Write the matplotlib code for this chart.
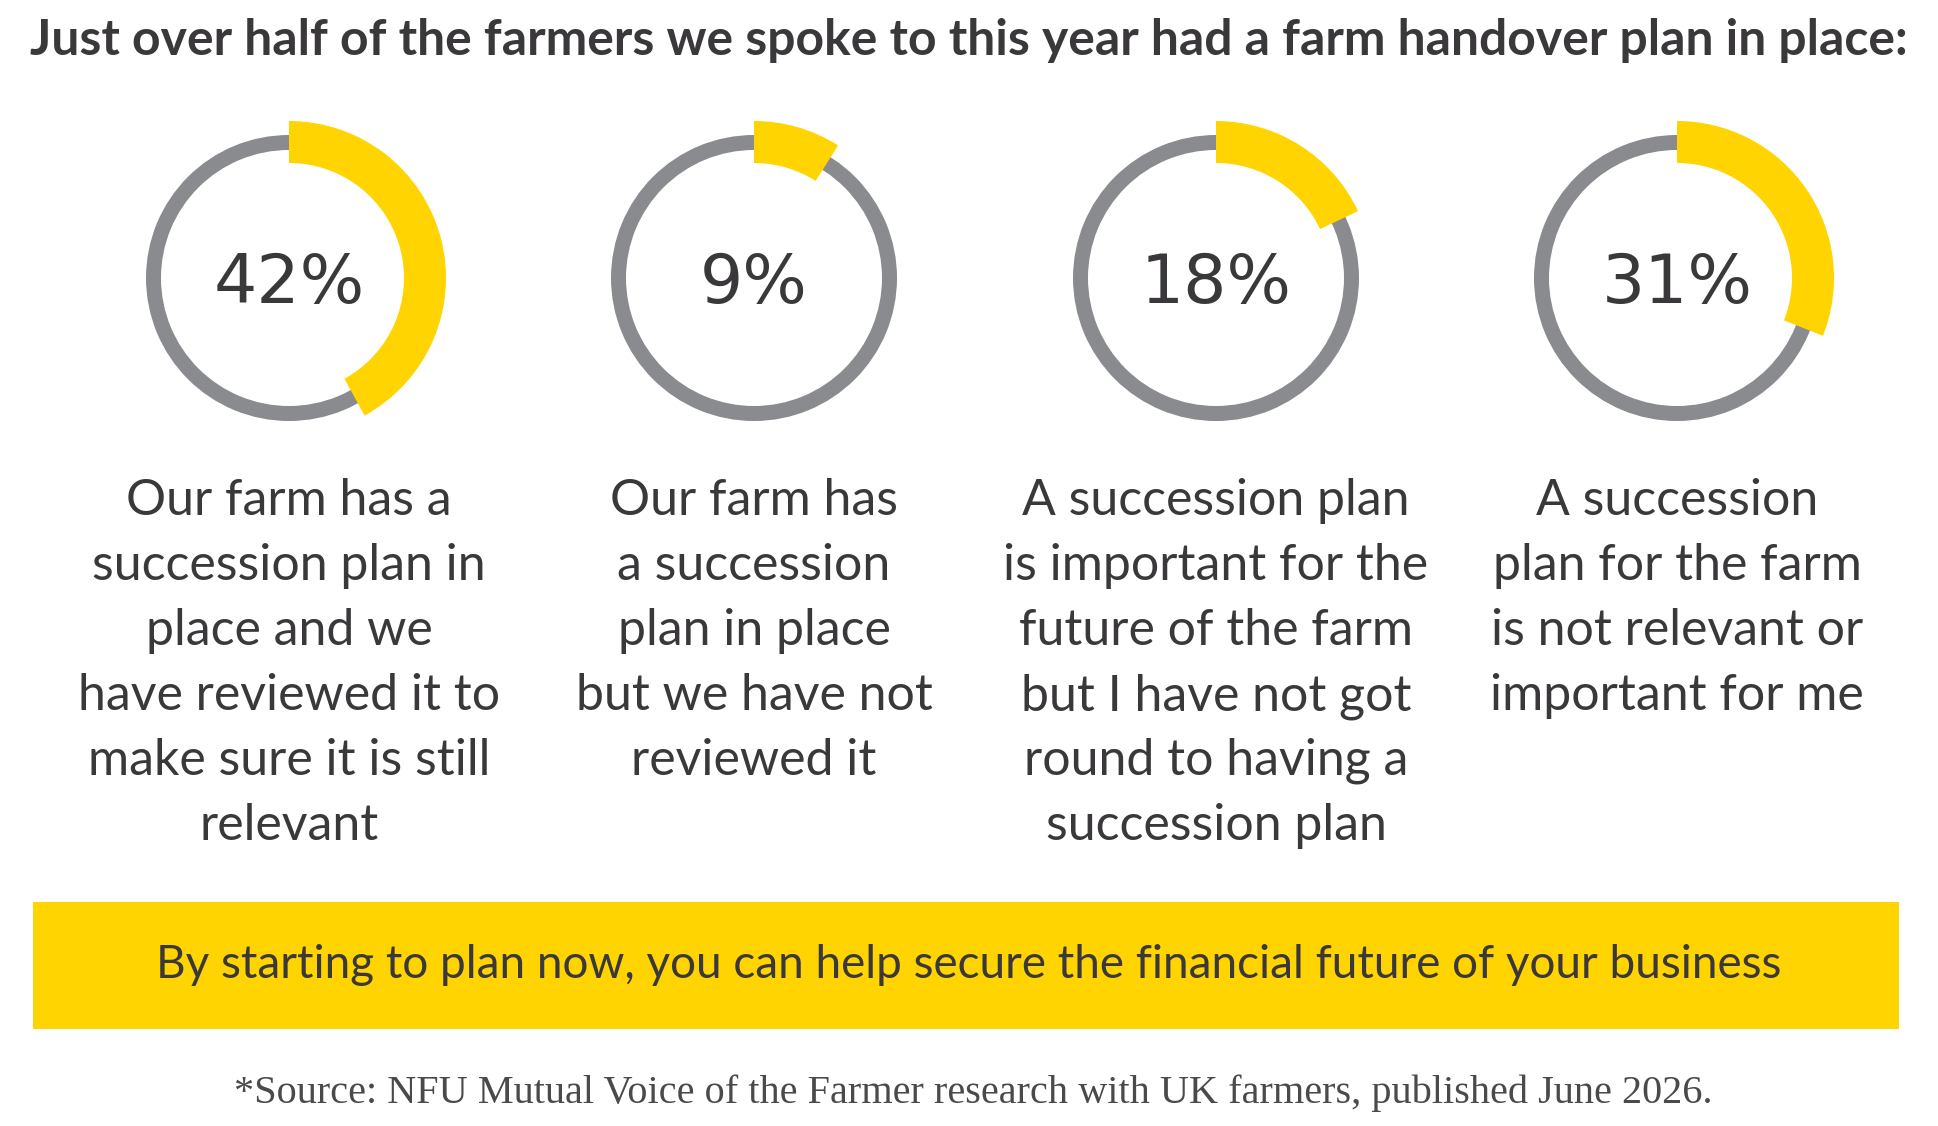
import matplotlib.pyplot as plt
from matplotlib.patches import Wedge, Rectangle

# data
values = [42, 9, 18, 31]
labels = ['42%', '9%', '18%', '31%']
descriptions = [
    ['Our farm has a', 'succession plan in', 'place and we', 'have reviewed it to',
     'make sure it is still', 'relevant'],
    ['Our farm has', 'a succession', 'plan in place', 'but we have not', 'reviewed it'],
    ['A succession plan', 'is important for the', 'future of the farm',
     'but I have not got', 'round to having a', 'succession plan'],
    ['A succession', 'plan for the farm', 'is not relevant or', 'important for me'],
]
title = 'Just over half of the farmers we spoke to this year had a farm handover plan in place:'
banner = 'By starting to plan now, you can help secure the financial future of your business'
source = '*Source: NFU Mutual Voice of the Farmer research with UK farmers, published June 2026.'

YELLOW = '#FFD400'
GREY = '#8a8b8e'
DARK = '#3a383b'

W, H = 1938, 1126
fig = plt.figure(figsize=(W / 100, H / 100), dpi=100)
ax = fig.add_axes([0, 0, 1, 1])
ax.set_xlim(0, W)
ax.set_ylim(H, 0)
ax.axis('off')

# title, shrunk to fit the width of the reference line
t = ax.text(W / 2, 55, title, ha='center', va='baseline', fontsize=37,
            family='Lato', weight='bold', color=DARK)
fig.canvas.draw()
tw = t.get_window_extent().width
if tw > 1883:
    t.set_fontsize(37 * 1883 / tw)

centers_x = [289, 754, 1216, 1677]
cy = 278
for i, (v, lab, desc) in enumerate(zip(values, labels, descriptions)):
    cx = centers_x[i]
    ax.add_patch(Wedge((cx, cy), 143, 0, 360, width=15, facecolor=GREY, edgecolor='none'))
    ax.add_patch(Wedge((cx, cy), 157, -90, -90 + 360 * v / 100, width=42,
                       facecolor=YELLOW, edgecolor='none'))
    ax.text(cx, 303, lab, ha='center', va='baseline', fontsize=49,
            family='DejaVu Sans', color=DARK)
    for j, line in enumerate(desc):
        ax.text(cx, 515 + 65 * j, line, ha='center', va='baseline', fontsize=36,
                family='Lato', color=DARK)

ax.add_patch(Rectangle((33, 902), 1866, 127, facecolor=YELLOW, edgecolor='none'))
ax.text(W / 2, 978, banner, ha='center', va='baseline', fontsize=33,
        family='Lato', color=DARK)

ax.text(W / 2 + 4, 1103, source, ha='center', va='baseline', fontsize=29,
        family='Liberation Serif', color='#4a4a4c')

fig.savefig('out.png', dpi=100, facecolor='white')
